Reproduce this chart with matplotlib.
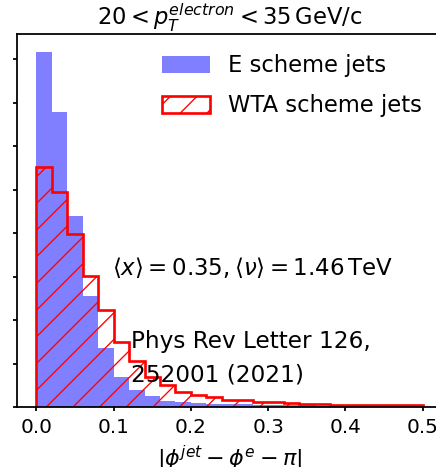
import numpy as np
import matplotlib
matplotlib.use("Agg")
import matplotlib.pyplot as plt

# bin edges of |dphi| (width 0.02)
edges = np.arange(0, 0.52, 0.02)

# normalised counts
e_scheme = [16.35, 13.58, 8.78, 5.1, 2.7, 1.38, 0.78, 0.5, 0.29, 0.24,
            0.2, 0.16, 0.14, 0.12, 0.1, 0.09, 0.08, 0.07, 0.06, 0.06,
            0.05, 0.05, 0.04, 0.04, 0.03]
wta_scheme = [11.05, 9.9, 7.97, 6.02, 4.45, 3.0, 2.1, 1.4, 1.0, 0.7,
              0.55, 0.44, 0.32, 0.3, 0.22, 0.21, 0.17, 0.13, 0.12, 0.11,
              0.1, 0.1, 0.09, 0.09, 0.08]

plt.rcParams['hatch.linewidth'] = 0.6

fig = plt.figure(figsize=(436 / 160, 467 / 160), dpi=160)
ax = fig.add_axes([17 / 436, 60 / 467, 425 / 436, 373 / 467])

ax.hist(edges[:-1], bins=edges, weights=e_scheme, color='blue', alpha=0.5,
        label='E scheme jets')
ax.hist(edges[:-1], bins=edges, weights=wta_scheme, histtype='step',
        color='red', hatch='//', linewidth=1.2, label='WTA scheme jets')

ax.set_xlim(-0.025, 0.525)
ax.set_xticks([0.0, 0.1, 0.2, 0.3, 0.4, 0.5])
ax.set_yticks(np.arange(0, 18, 2))
ax.tick_params(labelleft=False, labelsize=9, length=2, pad=3)
ax.set_xlabel(r'$|\phi^{jet} - \phi^{e} - \pi|$', fontsize=10, labelpad=3)
ax.set_title(r'$20 < p_T^{electron} < 35\,\mathrm{GeV/c}$', fontsize=10.2, pad=0.7)

ax.text(0.098, 6.4, r'$\langle x\rangle = 0.35, \langle \nu\rangle = 1.46\,\mathrm{TeV}$',
        fontsize=10.3, va='center')
ax.text(0.122, 0.95, 'Phys Rev Letter 126,\n252001 (2021)', fontsize=10.4,
        va='bottom', linespacing=1.55)

ax.legend(loc='upper right', frameon=False, fontsize=10.2,
          handlelength=2.1, handleheight=0.8, labelspacing=0.75)

fig.savefig('out.png', dpi=160)
